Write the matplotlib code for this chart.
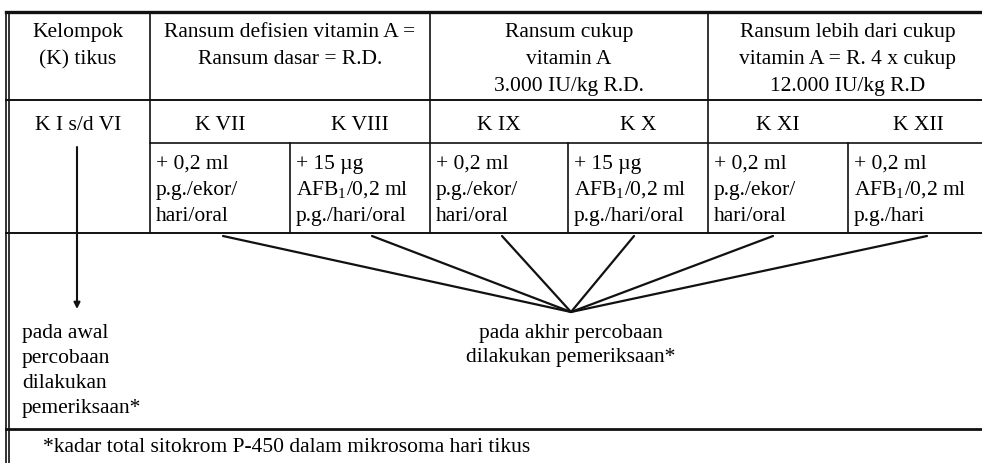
import matplotlib
matplotlib.use("Agg")
from matplotlib import pyplot as plt

plt.rcParams['font.family'] = ['Liberation Serif', 'DejaVu Serif']
plt.rcParams['mathtext.fontset'] = 'custom'
plt.rcParams['mathtext.rm'] = 'Liberation Serif'
plt.rcParams['mathtext.it'] = 'Liberation Serif:italic'

# teks tabel
header_first = ["Kelompok", "(K) tikus"]
header_groups = [
    ["Ransum defisien vitamin A =", "Ransum dasar = R.D."],
    ["Ransum cukup", "vitamin A", "3.000 IU/kg R.D."],
    ["Ransum lebih dari cukup", "vitamin A = R. 4 x cukup", "12.000 IU/kg R.D"],
]
group_labels = ["K I s/d VI", "K VII", "K VIII", "K IX", "K X", "K XI", "K XII"]
treatments = [
    ["+ 0,2 ml", "p.g./ekor/", "hari/oral"],
    ["+ 15 µg", "AFB$_1$/0,2 ml", "p.g./hari/oral"],
    ["+ 0,2 ml", "p.g./ekor/", "hari/oral"],
    ["+ 15 µg", "AFB$_1$/0,2 ml", "p.g./hari/oral"],
    ["+ 0,2 ml", "p.g./ekor/", "hari/oral"],
    ["+ 0,2 ml", "AFB$_1$/0,2 ml", "p.g./hari"],
]
note_start = ["pada awal", "percobaan", "dilakukan", "pemeriksaan*"]
note_end = ["pada akhir percobaan", "dilakukan pemeriksaan*"]
footnote = "*kadar total sitokrom P-450 dalam mikrosoma hari tikus"

# tata letak (piksel, y ke bawah)
W, H = 982, 463
col_x = [7, 150, 290, 430, 568, 708, 848, 988]
group_x = [(150, 430), (430, 708), (708, 988)]
y_top, y_head, y_k, y_treat, y_foot = 12, 100, 143, 233, 429
fan_x = [223, 372, 502, 634, 773, 927]
fan_tip = (571, 312)
fs = 15.5
lk = '#111111'

fig = plt.figure(figsize=(W / 100, H / 100), dpi=100)
ax = fig.add_axes([0, 0, 1, 1])
ax.set_xlim(0, W)
ax.set_ylim(H, 0)
ax.axis('off')

# garis
ax.plot([6, 6], [y_top, H], color=lk, lw=1.2)
ax.plot([9.5, 9.5], [y_top, H], color=lk, lw=1.2)
ax.plot([6, W], [y_top, y_top], color=lk, lw=2.4)
ax.plot([6, W], [y_head, y_head], color=lk, lw=1.4)
ax.plot([150, W], [y_k, y_k], color=lk, lw=1.2)
ax.plot([6, W], [y_treat, y_treat], color=lk, lw=1.4)
ax.plot([6, W], [y_foot, y_foot], color=lk, lw=2.0)
for x in [150, 430, 708]:
    ax.plot([x, x], [y_top, y_treat], color=lk, lw=1.2)
for x in [290, 568, 848]:
    ax.plot([x, x], [y_k, y_treat], color=lk, lw=1.2)

# judul
line_h = 27
for i, s in enumerate(header_first):
    ax.text(78, 37 + i * line_h, s, ha='center', va='baseline', fontsize=fs)
for (x0, x1), lines in zip(group_x, header_groups):
    for i, s in enumerate(lines):
        ax.text((x0 + x1) / 2, 37 + i * line_h, s, ha='center', va='baseline', fontsize=fs)

# baris kelompok
ax.text(78, 130, group_labels[0], ha='center', va='baseline', fontsize=fs)
for i, s in enumerate(group_labels[1:]):
    cx = (col_x[i + 1] + col_x[i + 2]) / 2
    ax.text(cx, 130, s, ha='center', va='baseline', fontsize=fs)

# perlakuan
for i, lines in enumerate(treatments):
    for j, s in enumerate(lines):
        ax.text(col_x[i + 1] + 6, 169 + j * 26, s, ha='left', va='baseline', fontsize=fs)

# panah dan kipas
ax.annotate('', xy=(77, 309), xytext=(77, 147),
            arrowprops=dict(arrowstyle='-|>', lw=1.5, color=lk, mutation_scale=9, shrinkA=0, shrinkB=0))
for x in fan_x:
    ax.plot([x, fan_tip[0]], [236, fan_tip[1]], color=lk, lw=1.6, solid_capstyle='round')

# catatan
for i, s in enumerate(note_start):
    ax.text(22, 338 + i * 25, s, ha='left', va='baseline', fontsize=fs)
for i, s in enumerate(note_end):
    ax.text(fan_tip[0], 338 + i * 24, s, ha='center', va='baseline', fontsize=fs)
ax.text(43, 452, footnote, ha='left', va='baseline', fontsize=fs)

fig.savefig('out.png', dpi=100)
